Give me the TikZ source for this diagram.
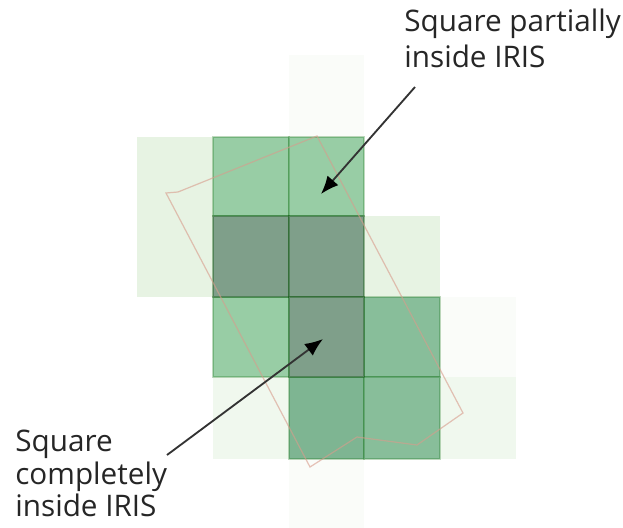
\documentclass[tikz,border=0pt]{standalone}
\usepackage{fontspec}
\setmainfont{Open Sans}
\usetikzlibrary{arrows.meta,positioning,calc}
\definecolor{irisline}{HTML}{D89C8C}
\definecolor{faintc}{HTML}{FAFCF9}
\definecolor{paleb}{HTML}{F0F8EE}
\definecolor{lightc}{HTML}{E7F3E3}
\definecolor{midc}{HTML}{98CDA5}
\definecolor{midd}{HTML}{88BE9A}
\definecolor{middk}{HTML}{7EB592}
\definecolor{darkc}{HTML}{7F9F8A}
\tikzset{
  edgebox/.style={fill=#1,draw=green!40!black,draw opacity=0.25,line width=0.7pt},
  darkbox/.style={fill=#1,draw=green!30!black,draw opacity=0.35,line width=0.8pt},
  labeltext/.style={align=left,inner sep=0pt,text=black!85},
  pointer/.style={-{Latex[length=3.6mm,width=2.9mm,color=black]},black!80,line width=1.05pt},
}
\begin{document}
\begin{tikzpicture}[x=0.02cm,y=-0.02cm]
\useasboundingbox (0,0) rectangle (623,528);
% pale squares
\foreach \xa/\ya/\xb/\yb/\tint in {289/55/364/137/faintc,137/137/213/215.7/lightc,137/216.3/213/297/lightc,364/216/440/297/lightc,440/297/516/377/faintc,213/377/289/459/paleb,440/377/516/459/paleb,289/459/364/528/faintc}
  \fill[\tint] (\xa,\ya) rectangle (\xb,\yb);
% squares with edges
\foreach \xa/\ya/\xb/\yb/\tint in {213/137/289/216/midc,289/137/364/216/midc,213/297/289/377/midc,364/297/440/377/midd,289/377/364/459/middk,364/377/440/459/midd}
  \draw[edgebox=\tint] (\xa,\ya) rectangle (\xb,\yb);
\foreach \xa/\ya/\xb/\yb/\tint in {213/216/289/297/darkc,289/216/364/297/darkc,289/297/364/377/darkc}
  \draw[darkbox=\tint] (\xa,\ya) rectangle (\xb,\yb);
% outline of IRIS
\draw[irisline,opacity=0.6,line width=0.7pt] (166,193) -- (178,192) -- (317,136) -- (463,413) -- (417,445) -- (357,437) -- (310,467) -- cycle;
\node[labeltext,font=\fontsize{16.9}{20.4}\selectfont,anchor=north west] (partial) at (404,9) {Square partially\\inside IRIS};
\node[labeltext,font=\fontsize{16.9}{18.4}\selectfont,anchor=north west] (complete) at (15,430) {Square\\completely\\inside IRIS};
\coordinate (partialtail) at (415,87);
\coordinate (partialtip) at (321,194);
\coordinate (completetail) at (167,455);
\coordinate (completetip) at (323,339);
\draw[pointer] (partialtail) -- (partialtip);
\draw[pointer] (completetail) -- (completetip);
\end{tikzpicture}
\end{document}
